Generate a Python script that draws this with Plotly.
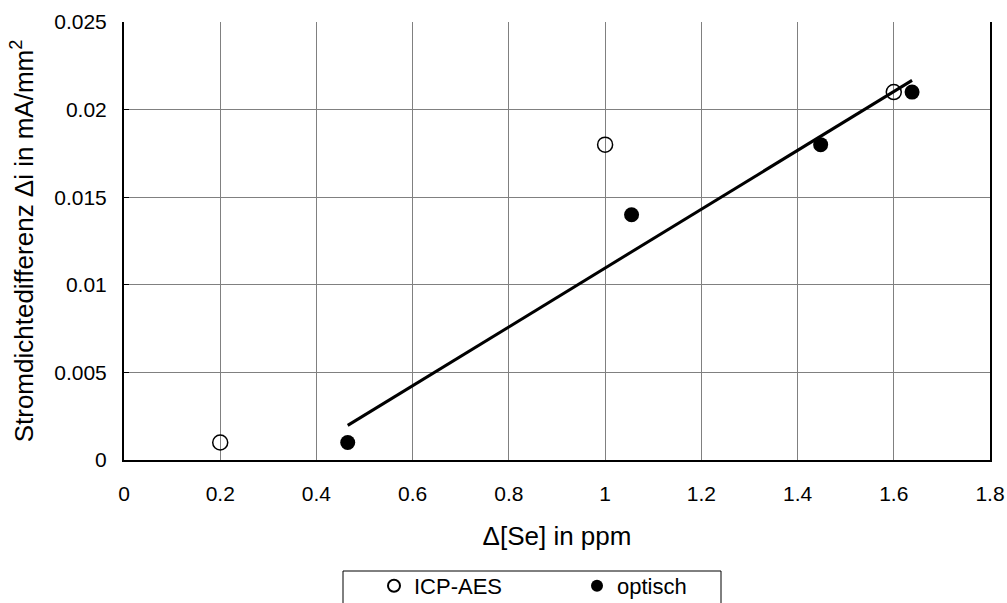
import numpy as np
import plotly.graph_objects as go

# Data
icp_x = [0.2, 1.0, 1.6]
icp_y = [0.001, 0.018, 0.021]
opt_x = [0.465, 1.055, 1.448, 1.638]
opt_y = [0.001, 0.014, 0.018, 0.021]
x_ticks = [0, 0.2, 0.4, 0.6, 0.8, 1, 1.2, 1.4, 1.6, 1.8]
y_ticks = [0, 0.005, 0.01, 0.015, 0.02, 0.025]

FONT = "Liberation Sans, Arial, sans-serif"

slope, intercept = np.polyfit(opt_x, opt_y, 1)
fit_x = [min(opt_x), max(opt_x)]
fit_y = [slope * v + intercept for v in fit_x]

fig = go.Figure()
fig.add_trace(go.Scatter(
    x=fit_x, y=fit_y, mode="lines", line=dict(color="black", width=3),
    showlegend=False, hoverinfo="skip"))
fig.add_trace(go.Scatter(
    x=icp_x, y=icp_y, mode="markers", name="ICP-AES",
    marker=dict(symbol="circle-open", size=15, color="black", line=dict(width=1.5, color="black"))))
fig.add_trace(go.Scatter(
    x=opt_x, y=opt_y, mode="markers", name="optisch",
    marker=dict(symbol="circle", size=15, color="black")))

# plot area in px: x 124..990, y 22..460
PW, PH = 866, 438
def px(xw):
    return (xw - 124) / PW
def py(yw):
    return (460 - yw) / PH

# legend frame (cut off at bottom of page like the reference)
fig.add_shape(type="rect", xref="paper", yref="paper",
              x0=px(343), x1=px(721), y0=py(640), y1=py(571),
              line=dict(color="black", width=1), fillcolor="rgba(0,0,0,0)")

fig.update_layout(
    width=1007, height=603,
    margin=dict(l=124, r=17, t=22, b=143, autoexpand=False),
    paper_bgcolor="white", plot_bgcolor="white",
    font=dict(family=FONT, size=21, color="black"),
    showlegend=True,
    legend=dict(orientation="h", x=px(374), xanchor="left",
                y=py(586), yanchor="middle",
                bgcolor="rgba(0,0,0,0)", borderwidth=0,
                font=dict(family=FONT, size=22, color="black"),
                entrywidth=158, entrywidthmode="pixels", itemwidth=30,
                itemsizing="constant"),
    xaxis=dict(range=[0, 1.8], tickvals=x_ticks, ticktext=[f"{v:g}" for v in x_ticks],
               showgrid=True, gridcolor="#808080", gridwidth=1,
               zeroline=False, showline=True, linecolor="black", linewidth=2,
               ticks="inside", ticklen=5, tickcolor="#808080",
               ticklabelstandoff=14, automargin=False,
               tickfont=dict(family=FONT, size=21),
               title=dict(text="Δ[Se] in ppm", font=dict(family=FONT, size=26), standoff=23)),
    yaxis=dict(range=[0, 0.025], tickvals=y_ticks, ticktext=[f"{v:g}" for v in y_ticks],
               showgrid=True, gridcolor="#808080", gridwidth=1,
               zeroline=False, showline=True, linecolor="black", linewidth=2, mirror=True,
               ticks="inside", ticklen=5, tickcolor="black",
               ticklabelstandoff=11, automargin=False,
               tickfont=dict(family=FONT, size=21),
               title=dict(text="Stromdichtedifferenz Δi in mA/mm<sup>2</sup>",
                          font=dict(family=FONT, size=26), standoff=13)),
)

fig.write_html("out.html", config={"displayModeBar": False},
               post_script="document.body.style.margin='0';document.body.style.overflow='hidden';")
